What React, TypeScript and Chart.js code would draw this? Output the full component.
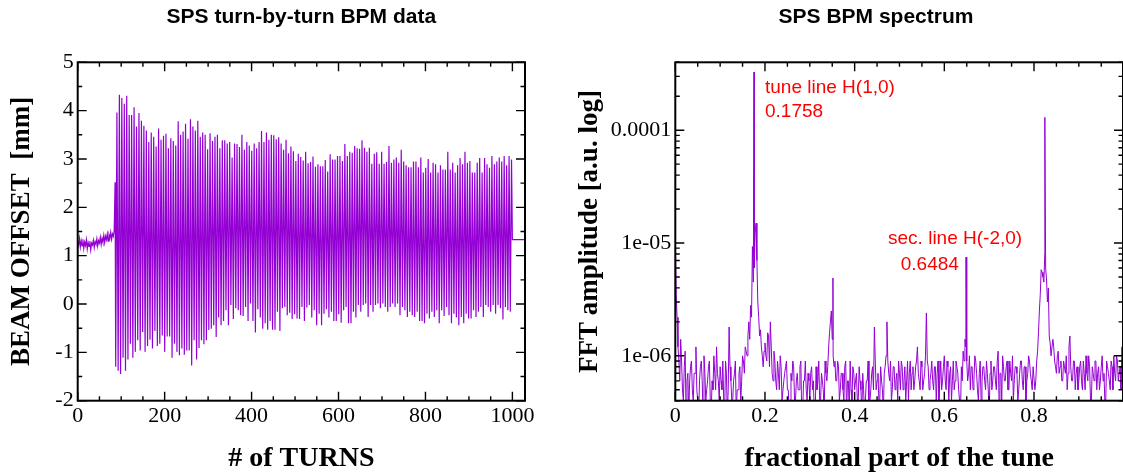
import React, { useEffect, useRef } from 'react';
import { Chart, registerables } from 'chart.js';

Chart.register(...registerables);

// ---------- Left panel: turn-by-turn BPM data (mm) ----------
const preStartTurn = 0;
const preTurnStep = 2;
const preOffsets = [
  1.30, 1.22, 1.36, 1.18, 1.31, 1.20, 1.34, 1.15, 1.28, 1.21,
  1.33, 1.14, 1.27, 1.19, 1.30, 1.12, 1.26, 1.22, 1.32, 1.17,
  1.29, 1.24, 1.35, 1.20, 1.31, 1.26, 1.38, 1.23, 1.36, 1.28,
  1.42, 1.27, 1.40, 1.33, 1.45, 1.30, 1.43, 1.36, 1.48, 1.34,
  1.45, 1.40, 1.52,
];
const kickTurn = 86;
const kickOffset = 2.52;
const oscFirstTurn = 87.4;
const oscLastTurn = 998;
const troughOffsets = [
  -1.30, -1.38, -1.45, -1.11, -1.38, -1.15, -0.82, -1.11, -0.99, -0.75,
  -0.96, -0.58, -0.99, -0.87, -0.74, -0.92, -0.56, -0.87, -0.82, -0.65,
  -0.99, -0.67, -0.67, -1.11, -0.82, -0.99, -1.06, -0.92, -1.05, -0.96,
  -0.96, -1.27, -0.75, -1.15, -0.91, -0.75, -0.83, -0.75, -0.54, -0.51,
  -0.44, -0.68, -0.28, -0.44, -0.35, -0.13, -0.44, -0.02, -0.31, -0.09,
  -0.13, -0.23, -0.25, -0.06, -0.35, 0.01, -0.35, -0.59, -0.11, -0.28,
  -0.51, -0.40, -0.53, -0.35, -0.53, -0.53, -0.16, -0.56, -0.09, -0.06,
  -0.23, -0.18, -0.31, -0.21, -0.30, -0.31, -0.06, -0.35, -0.07, -0.02,
  -0.28, -0.13, -0.44, -0.20,
  -0.44, -0.20, -0.11, -0.28, -0.16, -0.35, -0.35, -0.21, -0.39, -0.13,
  -0.06, -0.40, -0.40, -0.16, -0.28, -0.02, -0.16, -0.02, 0.01, -0.27,
  -0.02, -0.16, -0.02, 0.01, -0.09, 0.01, -0.06, -0.16, -0.06, 0.01,
  -0.06, 0.01, -0.23, -0.06, -0.13, -0.27, -0.16, -0.23, -0.27, -0.16,
  -0.35, -0.35, -0.40, -0.20, -0.30, -0.16, -0.27, -0.13, -0.40, -0.13,
  -0.25, -0.06, -0.23, -0.40, -0.20, -0.28, -0.44, -0.27, -0.40, -0.20,
  -0.30, -0.30, -0.13, -0.27, -0.16, -0.06, -0.27, -0.02, -0.06, -0.16,
  -0.02, -0.20, -0.02, -0.09, -0.32, -0.06, -0.13, -0.16,
];
const peakOffsets = [
  3.96, 4.33, 4.26, 4.14, 4.31, 3.91, 3.91, 4.07, 3.67, 3.95,
  3.79, 3.69, 3.59, 3.35, 3.55, 3.46, 3.26, 3.63, 3.40, 3.48,
  3.52, 3.22, 3.43, 3.37, 3.28, 3.78, 3.50, 3.57, 3.73, 3.42,
  3.82, 3.67, 3.59, 3.79, 3.46, 3.55, 3.50, 3.20, 3.53, 3.37,
  3.46, 3.50, 3.22, 3.39, 3.39, 3.32, 3.35, 3.03, 3.32, 3.31,
  3.25, 3.50, 3.19, 3.35, 3.28, 3.17, 3.32, 3.22, 3.35, 3.58,
  3.35, 3.55, 3.40, 3.50, 3.49, 3.41, 3.45, 3.32, 3.19, 3.40,
  3.12, 3.26, 3.16, 2.96, 3.11, 3.04, 2.97, 3.15, 2.91, 2.94,
  3.05, 2.84,
  2.89, 2.85, 2.85, 2.98, 2.74, 3.10, 2.99, 2.99, 3.06, 3.06,
  2.96, 3.31, 3.06, 3.15, 3.13, 3.27, 3.22, 3.21, 3.39, 3.23,
  3.15, 3.23, 2.90, 3.11, 3.14, 2.90, 3.15, 2.90, 2.94, 3.27,
  2.92, 2.99, 3.03, 2.92, 3.19, 2.95, 2.87, 2.83, 2.83, 2.95,
  2.95, 2.83, 3.03, 2.72, 2.82, 3.00, 2.72, 2.92, 2.89, 2.72,
  2.87, 2.78, 2.78, 3.15, 2.78, 2.92, 2.72, 2.87, 3.02, 2.89,
  3.15, 2.92, 2.96, 2.72, 2.72, 2.92, 3.02, 2.72, 3.02, 2.89,
  2.82, 3.06, 2.89, 2.95, 3.03, 2.95, 3.06, 2.87, 3.06, 2.99,
];
const tailTurns = [1000, 1029];
const tailOffsets = [1.33, 1.33];
const turnTicks = [0, 200, 400, 600, 800, 1000];
const offsetTicks = [-2, -1, 0, 1, 2, 3, 4, 5];

// ---------- Right panel: FFT spectrum ----------
const binStep = 0.004;
const noiseUnit = 1e-7;
// amplitudes (x1e-7) at tune = i * 0.004
const noiseLevels = [
  110, 22, 9, 14, 5, 8, 3, 7, 6, 9, 4, 7, 5, 3, 8, 6, 10, 4, 6, 9, 3, 5, 7, 12, 6,
  8, 5, 4, 9, 3, 18, 6, 4, 7, 3, 5, 8, 6, 9, 12, 10, 20, 28, 93, 60, 150, 30, 15, 12, 8,
  13, 9, 15, 20, 7, 11, 6, 9, 5, 8, 4, 7, 9, 5, 3, 6, 8, 4, 7, 5, 9, 3, 6, 5, 7,
  4, 8, 6, 3, 5, 9, 4, 6, 3, 7, 8, 16, 25, 10, 9, 6, 8, 5, 7, 4, 9, 6, 3, 5, 8,
  5, 7, 4, 6, 3, 5, 4, 6, 3, 5, 8, 18, 5, 7, 4, 6, 3, 8, 20, 7, 9, 5, 8, 6, 4,
  7, 9, 5, 8, 6, 4, 9, 7, 5, 8, 12, 6, 9, 5, 7, 24, 8, 6, 9, 5, 8, 7, 4, 9, 6,
  10, 5, 8, 7, 4, 9, 6, 8, 5, 3, 6, 9, 12, 6, 10, 8, 5, 10, 7, 4, 9, 6, 8, 5, 7,
  3, 9, 6, 8, 5, 11, 7, 4, 8, 6, 9, 5, 7, 10, 6, 8, 4, 7, 9, 5, 8, 6, 10, 7, 5,
  8, 6, 11, 25, 58, 50, 80, 47, 40, 13, 10, 12, 8, 10, 7, 9, 6, 8, 10, 7, 15, 6, 9, 5, 8,
  6, 9, 5, 7, 10, 6, 8, 4, 7, 9, 5, 8, 6, 10, 7, 4, 8, 6, 9, 5, 7, 10, 6, 8, 12,
];
// amplitudes (x1e-7) at tune = 0.002 + i * 0.004
const noiseLevelsMid = [
  35, 12, 6, 9, 4, 11, 6, 3, 8, 5, 7, 12, 4, 6, 9, 3, 7, 5, 8, 4, 6, 10, 5, 7, 4,
  6, 9, 3, 7, 5, 8, 4, 6, 9, 5, 7, 4, 10, 7, 11, 15, 14, 22, 45, 120, 70, 22, 17, 10, 11,
  10, 16, 8, 12, 6, 9, 5, 7, 10, 4, 6, 8, 5, 3, 7, 9, 4, 6, 5, 8, 3, 6, 9, 4, 6,
  7, 5, 3, 8, 6, 4, 7, 5, 9, 6, 12, 20, 14, 8, 6, 9, 4, 7, 5, 8, 3, 6, 9, 4, 7,
  6, 4, 8, 5, 7, 3, 6, 9, 4, 7, 5, 9, 6, 4, 8, 5, 7, 10, 9, 6, 4, 8, 5, 7, 9,
  5, 8, 6, 4, 9, 7, 5, 8, 6, 9, 7, 5, 8, 6, 10, 9, 5, 7, 6, 8, 4, 9, 6, 5, 8,
  6, 9, 4, 8, 6, 5, 9, 7, 4, 8, 11, 14, 9, 7, 5, 8, 6, 9, 5, 7, 4, 8, 6, 9, 5,
  7, 5, 8, 6, 9, 4, 7, 10, 6, 8, 5, 9, 6, 4, 8, 7, 5, 9, 6, 8, 4, 7, 9, 6, 8,
  5, 9, 16, 35, 55, 45, 60, 30, 15, 10, 14, 9, 7, 11, 8, 6, 9, 7, 5, 12, 8, 6, 9, 7, 5,
  8, 6, 9, 5, 7, 10, 4, 8, 6, 9, 7, 5, 8, 6, 4, 9, 7, 5, 8, 10, 6, 9, 7, 5, 8,
];
const lineTunes = [0.1758, 0.3516, 0.6484, 0.8242];
const lineAmplitudes = [3.28e-4, 4.9e-6, 7.5e-6, 1.3e-4];
const tuneTicks = [0, 0.2, 0.4, 0.6, 0.8];
const ampTicks = [1e-6, 1e-5, 1e-4];
const ampTickLabels = ['1e-06', '1e-05', '0.0001'];

const noteTexts = ['tune line H(1,0)', '0.1758', 'sec. line H(-2,0)', '0.6484'];
const noteTunes = [0.2, 0.2, 0.4745, 0.5028];
const noteAmplitudes = [2.4e-4, 1.47e-4, 1.1e-5, 6.35e-6];

// ---------- styling ----------
const PURPLE = 'rgb(148,0,211)';
const SERIF = '"Liberation Serif", "Times New Roman", serif';
const SANS = '"Liberation Sans", Arial, sans-serif';

const axisFrame = {
  id: 'axisFrame',
  afterDatasetsDraw(chart: any, _args: any, opts: any) {
    const { ctx, chartArea: a, scales } = chart;
    const xs = scales.x;
    const ys = scales.y;
    ctx.save();
    ctx.strokeStyle = '#000';
    ctx.lineWidth = 1.4;
    ctx.beginPath();
    const near = (v: number, s: number) => Math.abs(v / s - Math.round(v / s)) < 1e-6;
    const k0 = Math.ceil(xs.min / opts.xMinor - 1e-9);
    const k1 = Math.floor(xs.max / opts.xMinor + 1e-9);
    for (let k = k0; k <= k1; k++) {
      const v = k * opts.xMinor;
      const len = near(v, opts.xMajor) ? 9 : 4.5;
      const px = xs.getPixelForValue(v);
      ctx.moveTo(px, a.bottom);
      ctx.lineTo(px, a.bottom - len);
      ctx.moveTo(px, a.top);
      ctx.lineTo(px, a.top + len);
    }
    const yTick = (v: number, major: boolean) => {
      const len = major ? 9 : 4.5;
      const py = ys.getPixelForValue(v);
      ctx.moveTo(a.left, py);
      ctx.lineTo(a.left + len, py);
      ctx.moveTo(a.right, py);
      ctx.lineTo(a.right - len, py);
    };
    if (opts.yLog) {
      const e0 = Math.floor(Math.log10(ys.min));
      const e1 = Math.ceil(Math.log10(ys.max));
      for (let e = e0; e <= e1; e++) {
        for (let m = 1; m <= 9; m++) {
          const v = m * Math.pow(10, e);
          if (v < ys.min || v > ys.max) continue;
          yTick(v, m === 1);
        }
      }
    } else {
      const j0 = Math.ceil(ys.min / opts.yMinor - 1e-9);
      const j1 = Math.floor(ys.max / opts.yMinor + 1e-9);
      for (let j = j0; j <= j1; j++) {
        const v = j * opts.yMinor;
        yTick(v, near(v, opts.yMajor));
      }
    }
    ctx.stroke();
    ctx.lineWidth = 2;
    ctx.strokeRect(a.left, a.top, a.right - a.left, a.bottom - a.top);
    if (opts.notes) {
      ctx.fillStyle = '#ff0000';
      ctx.font = `19px ${SANS}`;
      ctx.textAlign = 'left';
      ctx.textBaseline = 'middle';
      opts.notes.texts.forEach((t: string, i: number) => {
        ctx.fillText(t, xs.getPixelForValue(opts.notes.xs[i]), ys.getPixelForValue(opts.notes.ys[i]));
      });
    }
    ctx.restore();
  },
};

function buildTurnData() {
  const pts: { x: number; y: number }[] = [];
  preOffsets.forEach((v, i) => pts.push({ x: preStartTurn + i * preTurnStep, y: v }));
  pts.push({ x: kickTurn, y: kickOffset });
  const n = Math.min(peakOffsets.length, troughOffsets.length);
  const period = (oscLastTurn - oscFirstTurn) / (n - 0.5);
  for (let i = 0; i < n; i++) {
    pts.push({ x: oscFirstTurn + i * period, y: troughOffsets[i] });
    pts.push({ x: oscFirstTurn + (i + 0.5) * period, y: peakOffsets[i] });
  }
  tailTurns.forEach((t, i) => pts.push({ x: t, y: tailOffsets[i] }));
  return pts;
}

function buildSpectrum() {
  const pts = noiseLevels.map((v, i) => ({ x: i * binStep, y: v * noiseUnit }));
  noiseLevelsMid.forEach((v, i) => pts.push({ x: (i + 0.5) * binStep, y: v * noiseUnit }));
  lineTunes.forEach((q, i) => pts.push({ x: q, y: lineAmplitudes[i] }));
  pts.sort((p, q) => p.x - q.x);
  return pts;
}

const tickFont = { family: SERIF, size: 22 };
const axisTitleFont = { family: SERIF, size: 27, weight: 'bold' as const, lineHeight: 1 };
const xTitleFont = { family: SERIF, size: 28, weight: 'bold' as const, lineHeight: 1 };
const TITLE_SIZE = 21;

function baseOptions(padRight: number, title: string, fullSize: boolean, frame: any) {
  return {
    animation: false,
    responsive: false,
    devicePixelRatio: 1,
    events: [],
    layout: { padding: { left: 0, right: padRight, top: 0, bottom: 0 } },
    plugins: {
      legend: { display: false },
      tooltip: { enabled: false },
      title: {
        display: true,
        text: title,
        fullSize,
        color: '#000',
        font: { family: SANS, size: TITLE_SIZE, weight: 'bold' as const, lineHeight: 1 },
        padding: { top: 7, bottom: 62.3 - 7 - TITLE_SIZE },
      },
      axisFrame: frame,
    },
  };
}

function leftConfig(): any {
  return {
    type: 'line',
    data: {
      datasets: [{
        data: buildTurnData(),
        borderColor: PURPLE,
        borderWidth: 1.2,
        pointRadius: 0,
        tension: 0,
        fill: false,
      }],
    },
    plugins: [axisFrame],
    options: {
      ...baseOptions(74, 'SPS turn-by-turn BPM data', false, { xMinor: 50, xMajor: 200, yMinor: 0.5, yMajor: 1, yLog: false }),
      scales: {
        x: {
          type: 'linear',
          min: 0,
          max: 1029,
          grid: { display: false, drawTicks: false },
          border: { display: false },
          afterBuildTicks: (s: any) => { s.ticks = turnTicks.map((v) => ({ value: v })); },
          ticks: {
            autoSkip: false,
            maxRotation: 0,
            padding: 2,
            color: '#000',
            font: tickFont,
            callback: (v: number) => String(v),
          },
          title: { display: true, text: '# of TURNS', color: '#000', font: xTitleFont, padding: { top: 0, bottom: 1 } },
          afterFit: (s: any) => { s.height = 73.3; },
        },
        y: {
          type: 'linear',
          min: -2,
          max: 5,
          grid: { display: false, drawTicks: false },
          border: { display: false },
          afterBuildTicks: (s: any) => { s.ticks = offsetTicks.map((v) => ({ value: v })); },
          ticks: {
            autoSkip: false,
            padding: 4,
            color: '#000',
            font: tickFont,
            callback: (v: number) => String(v),
          },
          title: { display: true, text: 'BEAM OFFSET  [mm]', color: '#000', font: axisTitleFont, padding: { top: 8.5, bottom: 0 } },
          afterFit: (s: any) => { s.width = 77.7; },
        },
      },
    },
  };
}

function rightConfig(): any {
  return {
    type: 'line',
    data: {
      datasets: [{
        data: buildSpectrum(),
        borderColor: PURPLE,
        borderWidth: 1,
        pointRadius: 0,
        tension: 0,
        fill: false,
      }],
    },
    plugins: [axisFrame],
    options: {
      ...baseOptions(0, 'SPS BPM spectrum', true, {
        xMinor: 0.05,
        xMajor: 0.2,
        yLog: true,
        notes: { texts: noteTexts, xs: noteTunes, ys: noteAmplitudes },
      }),
      scales: {
        x: {
          type: 'linear',
          min: 0,
          max: 0.9985,
          grid: { display: false, drawTicks: false },
          border: { display: false },
          afterBuildTicks: (s: any) => { s.ticks = tuneTicks.map((v) => ({ value: v })); },
          ticks: {
            autoSkip: false,
            maxRotation: 0,
            padding: 2,
            color: '#000',
            font: tickFont,
            callback: (v: number) => String(v),
          },
          title: { display: true, text: 'fractional part of the tune', color: '#000', font: xTitleFont, padding: { top: 0, bottom: 1 } },
          afterFit: (s: any) => { s.height = 73.3; },
        },
        y: {
          type: 'logarithmic',
          min: 4e-7,
          max: 4e-4,
          grid: { display: false, drawTicks: false },
          border: { display: false },
          afterBuildTicks: (s: any) => { s.ticks = ampTicks.map((v) => ({ value: v })); },
          ticks: {
            autoSkip: false,
            padding: 4,
            color: '#000',
            font: tickFont,
            callback: (_v: number, i: number) => ampTickLabels[i],
          },
          title: { display: true, text: 'FFT amplitude [a.u. log]', color: '#000', font: axisTitleFont, padding: { top: 16.5, bottom: 0 } },
          afterFit: (s: any) => { s.width = 115.3; },
        },
        yRight: {
          type: 'linear',
          position: 'right',
          min: 0,
          max: 1,
          grid: { display: false, drawTicks: false },
          border: { display: false },
          ticks: { display: false },
          afterFit: (s: any) => { s.width = 69; },
        },
      },
    },
  };
}

function ChartCanvas({ config, left, width }: { config: () => any; left: number; width: number }) {
  const ref = useRef<HTMLCanvasElement | null>(null);
  useEffect(() => {
    if (!ref.current) return;
    const chart = new Chart(ref.current, config());
    return () => chart.destroy();
  }, [config]);
  return (
    <canvas
      ref={ref}
      width={width}
      height={474}
      style={{ position: 'absolute', left, top: 0, width, height: 474, display: 'block' }}
    />
  );
}

export default function App() {
  return (
    <div
      style={{
        position: 'fixed',
        left: 0,
        top: 0,
        width: 1123,
        height: 474,
        overflow: 'hidden',
        background: '#fff',
      }}
    >
      <ChartCanvas config={leftConfig} left={0} width={599} />
      <ChartCanvas config={rightConfig} left={560} width={632} />
    </div>
  );
}
